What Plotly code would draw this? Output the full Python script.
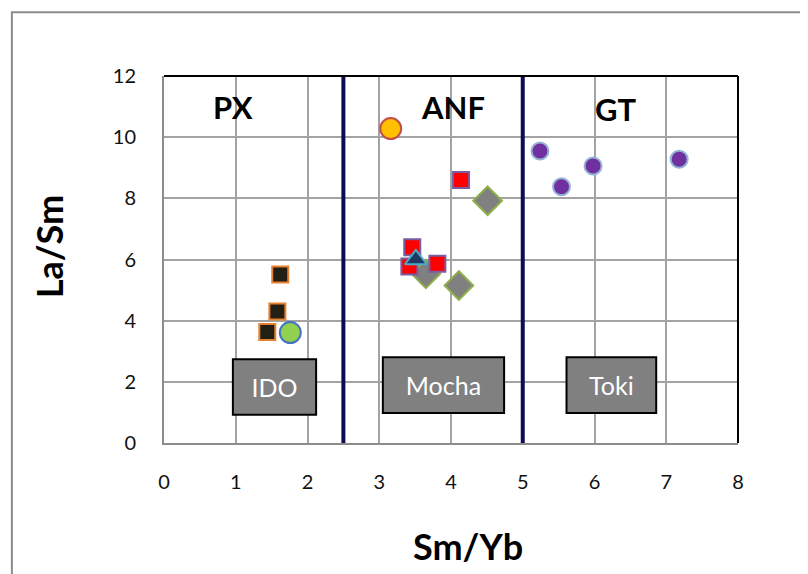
import plotly.graph_objects as go

# ---- data ----
px_x = [1.62, 1.58, 1.44]
px_y = [5.51, 4.30, 3.63]
green_x = [1.76]
green_y = [3.61]
orange_x = [3.16]
orange_y = [10.28]
diamond_x = [4.51, 4.11, 3.65]
diamond_y = [7.92, 5.15, 5.53]
red_x = [4.14, 3.46, 3.42, 3.81]
red_y = [8.60, 6.40, 5.77, 5.86]
tri_x = [3.51]
tri_y = [6.00]
gt_x = [5.24, 5.54, 5.98, 7.18]
gt_y = [9.55, 8.38, 9.06, 9.28]

dividers = [2.5, 5.0]
zone_labels = ["PX", "ANF", "GT"]
zone_label_x = [0.96, 4.03, 6.29]
zone_label_y = [10.98, 10.98, 10.92]
box_labels = ["IDO", "Mocha", "Toki"]
box_x0 = [0.96, 3.05, 5.61]
box_x1 = [2.12, 4.74, 6.86]
box_y0 = [0.92, 0.98, 0.98]
box_y1 = [2.74, 2.80, 2.80]

FONT = "Lato, 'Open Sans', sans-serif"

fig = go.Figure()

def add(x, y, symbol, size, fill, line, lw=2):
    fig.add_trace(go.Scatter(x=x, y=y, mode="markers", showlegend=False,
                             marker=dict(symbol=symbol, size=size, color=fill,
                                         line=dict(color=line, width=lw))))

add(px_x, px_y, "square", 16, "#221f14", "#e8812f")
add(green_x, green_y, "circle", 21, "#92d050", "#4472c4")
add(orange_x, orange_y, "circle", 21, "#ffc000", "#c0504d")
add(diamond_x, diamond_y, "diamond", 22, "#808080", "#8faf4a")
add(red_x, red_y, "square", 16, "#ff0000", "#7a5ca0")
add(tri_x, tri_y, "triangle-up", 19, "#1f3864", "#4bacc6")
add(gt_x, gt_y, "circle", 17, "#7030a0", "#95b3d7")

shapes = []
for d in dividers:
    shapes.append(dict(type="line", xref="x", yref="y", x0=d, x1=d, y0=0, y1=12,
                       line=dict(color="#0e0c58", width=4)))
# top & right black borders
shapes.append(dict(type="line", xref="paper", yref="paper", x0=0, x1=1, y0=1, y1=1,
                   line=dict(color="black", width=2)))
shapes.append(dict(type="line", xref="paper", yref="paper", x0=1, x1=1, y0=0, y1=1,
                   line=dict(color="black", width=2)))
# outer chart frame
shapes.append(dict(type="rect", xref="paper", yref="paper", x0=-0.265, x1=1.3,
                   y0=-0.5, y1=1.174, line=dict(color="#8c8c8c", width=2), layer="below"))
for lab, a, b, c, d in zip(box_labels, box_x0, box_x1, box_y0, box_y1):
    shapes.append(dict(type="rect", xref="x", yref="y", x0=a, x1=b, y0=c, y1=d,
                       fillcolor="#808080", line=dict(color="black", width=2),
                       label=dict(text=lab, font=dict(family=FONT, size=25, color="white"))))

annotations = []
for lab, x, y in zip(zone_labels, zone_label_x, zone_label_y):
    annotations.append(dict(x=x, y=y, xref="x", yref="y", text="<b>%s</b>" % lab,
                            showarrow=False, font=dict(family=FONT, size=31, color="black")))
annotations.append(dict(x=-0.2, y=0.534, xref="paper", yref="paper", text="<b>La/Sm</b>",
                        textangle=-90, showarrow=False, xanchor="center", yanchor="middle",
                        font=dict(family=FONT, size=36, color="black")))
annotations.append(dict(x=0.529, y=-0.281, xref="paper", yref="paper", text="<b>Sm/Yb</b>",
                        showarrow=False, xanchor="center", yanchor="middle",
                        font=dict(family=FONT, size=36, color="black")))

fig.update_layout(
    width=800, height=566,
    margin=dict(l=156, r=70, t=68, b=131),
    paper_bgcolor="white", plot_bgcolor="white",
    shapes=shapes, annotations=annotations,
    font=dict(family=FONT, size=20, color="#111111"),
)
fig.update_xaxes(range=[0, 8], dtick=1, showgrid=True, gridcolor="#a3a3a3", gridwidth=1.5,
                 showline=True, linecolor="#8c8c8c", linewidth=2, zeroline=False,
                 ticks="", ticklabelstandoff=20, tickfont=dict(size=20))
fig.update_yaxes(range=[0, 12], dtick=2, showgrid=True, gridcolor="#a3a3a3", gridwidth=1.5,
                 showline=True, linecolor="#8c8c8c", linewidth=2, zeroline=False,
                 ticks="", ticklabelstandoff=22, tickfont=dict(size=20))

fig.write_html("out.html")
